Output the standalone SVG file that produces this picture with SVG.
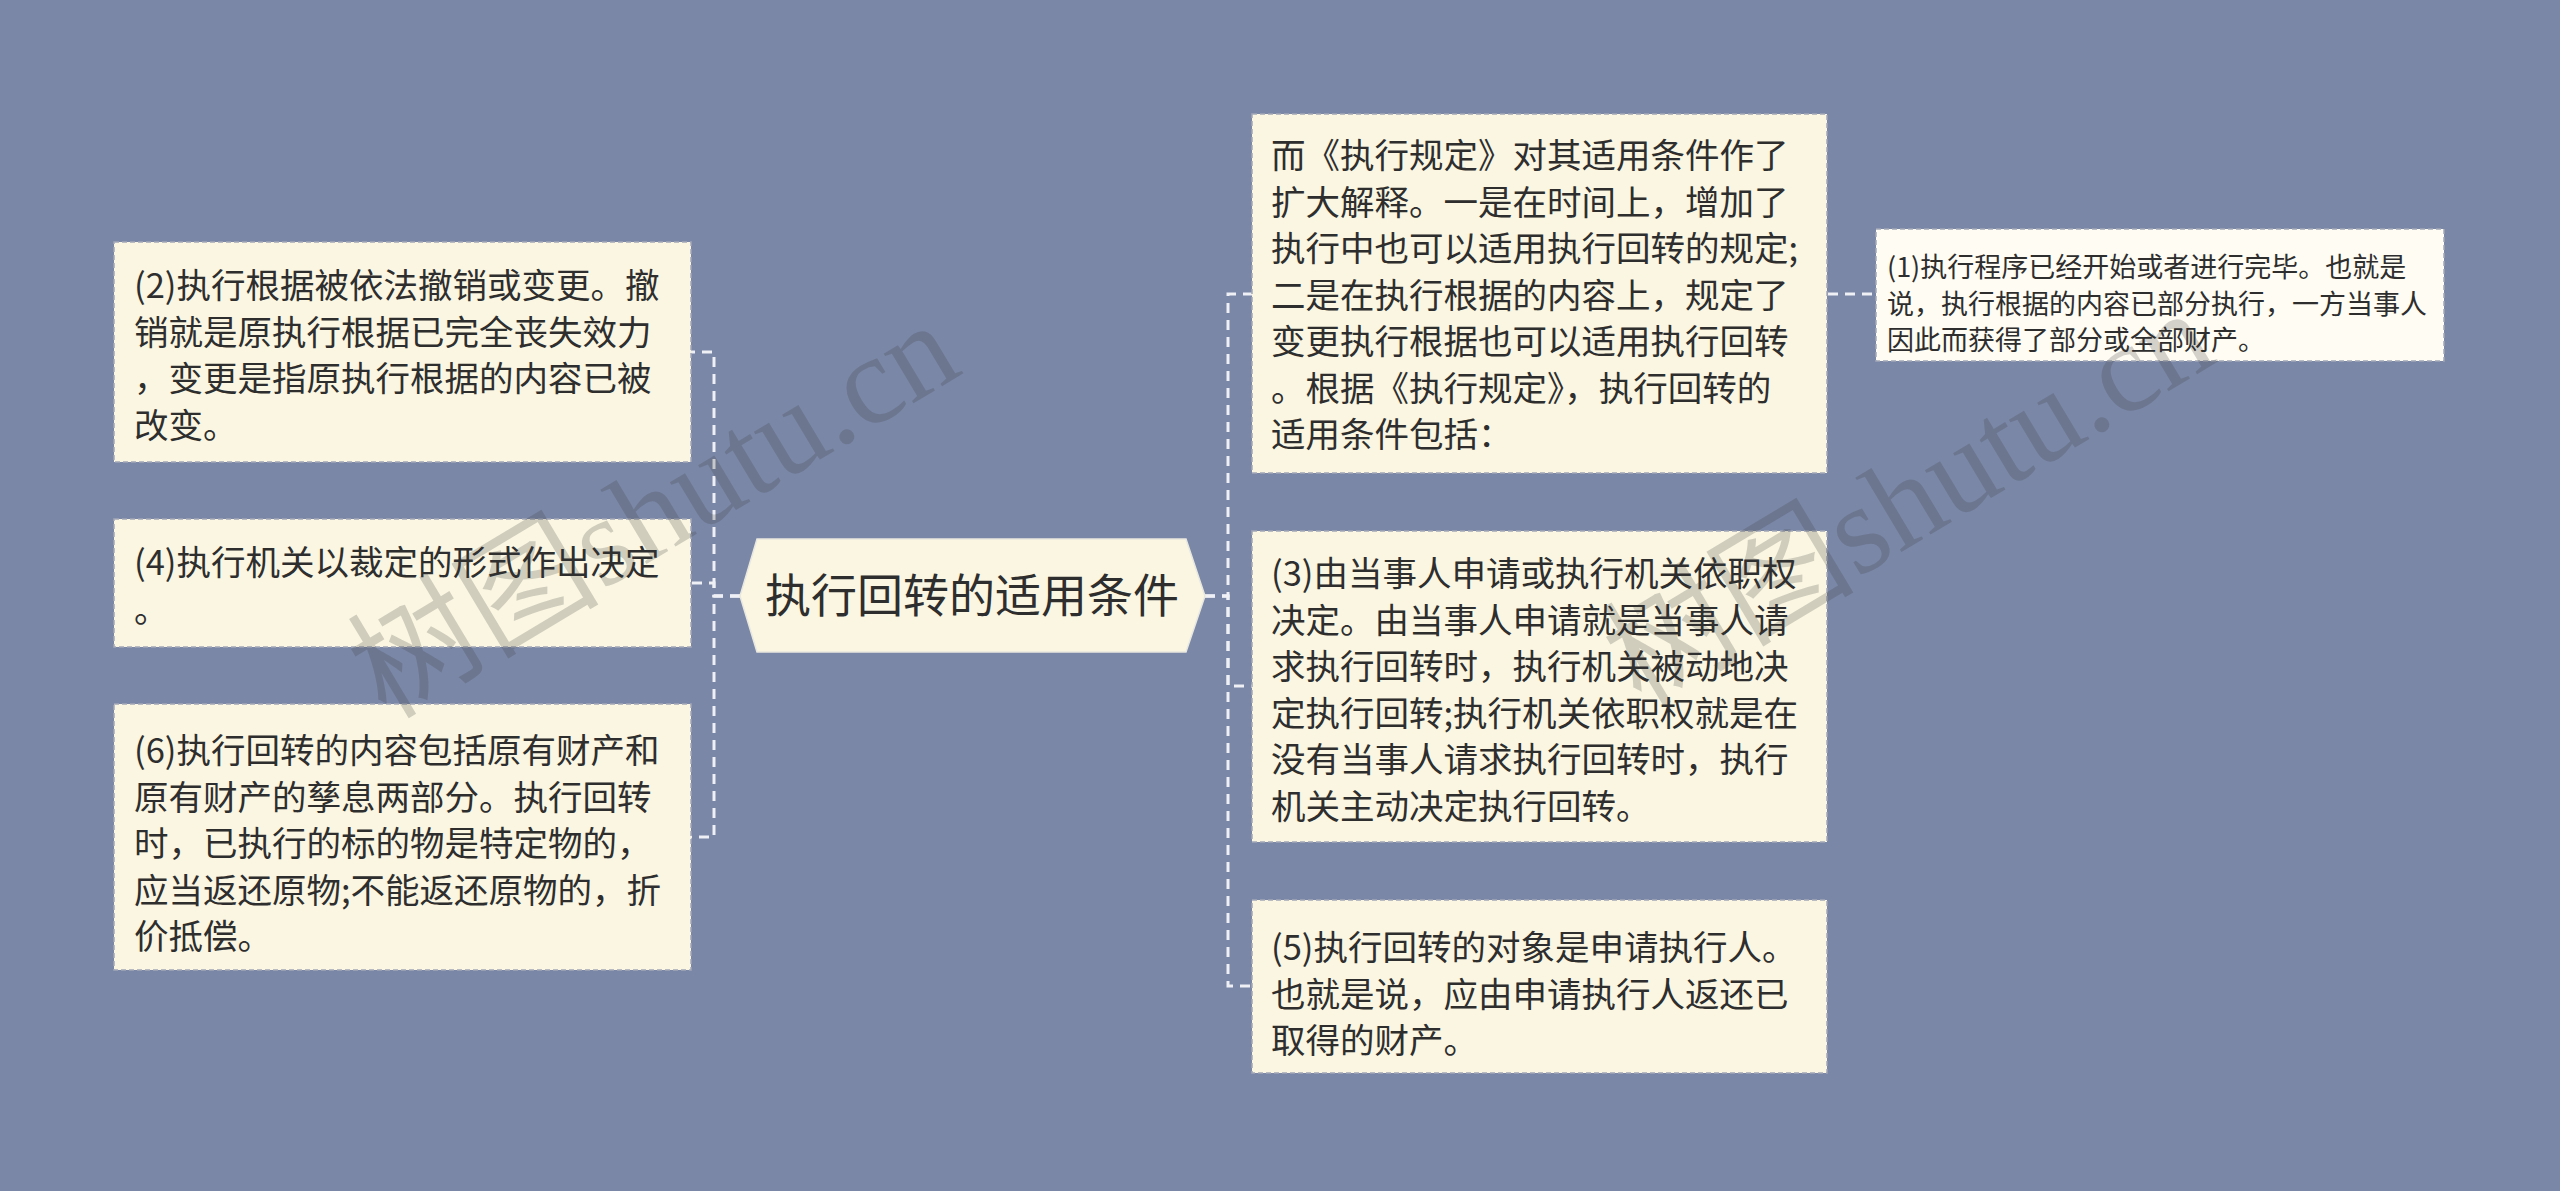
<svg xmlns="http://www.w3.org/2000/svg" width="2560" height="1191" viewBox="0 0 2560 1191">
<style>
.bg{fill:#7a87a7}
.box{fill:#faf6e2;stroke:#a3a8b6;stroke-width:1.5;stroke-dasharray:5 3}
.box2{fill:#fefcf3;stroke:#a3a8b6;stroke-width:1.5;stroke-dasharray:5 3}
.hex{fill:#faf6e2;stroke:#e9e8e0;stroke-width:1.5}
.t{font-family:"Noto Sans CJK SC","Noto Sans",sans-serif;font-size:34.5px;fill:#2e2e2e}
.ts{font-family:"Noto Sans CJK SC","Noto Sans",sans-serif;font-size:27px;fill:#2e2e2e}
.tc{font-family:"Noto Sans CJK SC","Noto Sans",sans-serif;font-size:46px;fill:#2e2e2e;text-anchor:middle}
.ln{fill:none;stroke:#eef0f5;stroke-width:3;stroke-dasharray:10 7}
.wm{font-family:"Liberation Serif","Noto Sans CJK SC",serif;font-size:126px;fill:#3a3a3a;fill-opacity:0.22;text-anchor:middle}
</style>
<rect class="bg" x="0" y="0" width="2560" height="1191"/>
<g id="connectors">
<path class="ln" d="M740 596 H714 V352 H691"/>
<path class="ln" d="M740 596 H714 V583 H691"/>
<path class="ln" d="M740 596 H714 V837 H691"/>
<path class="ln" d="M1205 596 H1228 V294 H1252"/>
<path class="ln" d="M1205 596 H1228 V686 H1252"/>
<path class="ln" d="M1205 596 H1228 V986 H1252"/>
<path class="ln" d="M1828 294 H1876"/>
</g>
<g id="center">
<polygon class="hex" points="740,596 757,539 1186,539 1205,596 1186,652 757,652"/>
<text class="tc" x="972" y="612">执行回转的适用条件</text>
</g>
<g id="n2">
<rect class="box" x="114" y="242" width="577" height="220"/>
<text class="t" x="134" y="298">(2)执行根据被依法撤销或变更。撤</text>
<text class="t" x="134" y="344.5">销就是原执行根据已完全丧失效力</text>
<text class="t" x="134" y="391">，变更是指原执行根据的内容已被</text>
<text class="t" x="134" y="437.5">改变。</text>
</g>
<g id="n4">
<rect class="box" x="114" y="519" width="577" height="128"/>
<text class="t" x="134" y="575">(4)执行机关以裁定的形式作出决定</text>
<text class="t" x="134" y="621.5">。</text>
</g>
<g id="n6">
<rect class="box" x="114" y="704" width="577" height="266"/>
<text class="t" x="134" y="763">(6)执行回转的内容包括原有财产和</text>
<text class="t" x="134" y="809.5">原有财产的孳息两部分。执行回转</text>
<text class="t" x="134" y="856">时，已执行的标的物是特定物的，</text>
<text class="t" x="134" y="902.5">应当返还原物;不能返还原物的，折</text>
<text class="t" x="134" y="949">价抵偿。</text>
</g>
<g id="intro">
<rect class="box" x="1252" y="114" width="575" height="359"/>
<text class="t" x="1271" y="168">而《执行规定》对其适用条件作了</text>
<text class="t" x="1271" y="214.5">扩大解释。一是在时间上，增加了</text>
<text class="t" x="1271" y="261">执行中也可以适用执行回转的规定;</text>
<text class="t" x="1271" y="307.5">二是在执行根据的内容上，规定了</text>
<text class="t" x="1271" y="354">变更执行根据也可以适用执行回转</text>
<text class="t" x="1271" y="400.5">。根据《执行规定》，执行回转的</text>
<text class="t" x="1271" y="447">适用条件包括：</text>
</g>
<g id="n1">
<rect class="box2" x="1876" y="229" width="568" height="132"/>
<text class="ts" x="1887" y="277">(1)执行程序已经开始或者进行完毕。也就是</text>
<text class="ts" x="1887" y="313.5">说，执行根据的内容已部分执行，一方当事人</text>
<text class="ts" x="1887" y="350">因此而获得了部分或全部财产。</text>
</g>
<g id="n3">
<rect class="box" x="1252" y="531" width="575" height="311"/>
<text class="t" x="1271" y="586">(3)由当事人申请或执行机关依职权</text>
<text class="t" x="1271" y="632.5">决定。由当事人申请就是当事人请</text>
<text class="t" x="1271" y="679">求执行回转时，执行机关被动地决</text>
<text class="t" x="1271" y="725.5">定执行回转;执行机关依职权就是在</text>
<text class="t" x="1271" y="772">没有当事人请求执行回转时，执行</text>
<text class="t" x="1271" y="818.5">机关主动决定执行回转。</text>
</g>
<g id="n5">
<rect class="box" x="1252" y="900" width="575" height="173"/>
<text class="t" x="1271" y="960">(5)执行回转的对象是申请执行人。</text>
<text class="t" x="1271" y="1006.5">也就是说，应由申请执行人返还已</text>
<text class="t" x="1271" y="1053">取得的财产。</text>
</g>
<g id="watermarks">
<text class="wm" transform="translate(655 512) rotate(-31)" x="0" y="40">树图shutu.cn</text>
<text class="wm" transform="translate(1910 500) rotate(-31)" x="0" y="40">树图shutu.cn</text>
</g>
</svg>
